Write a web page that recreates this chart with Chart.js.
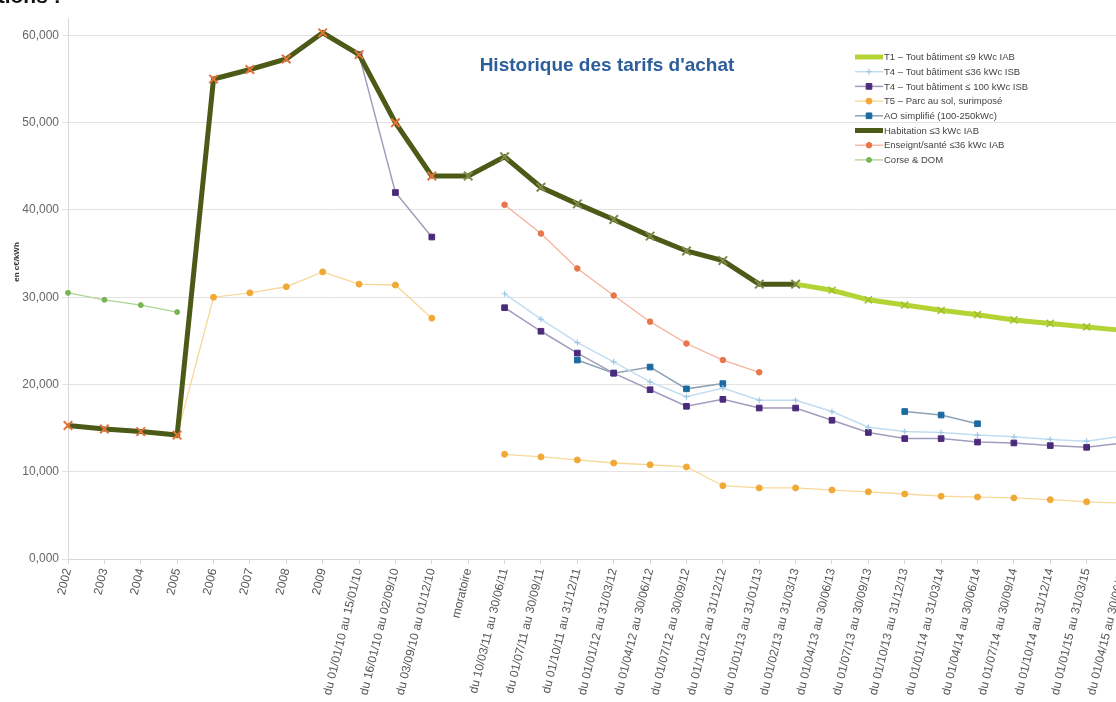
<!DOCTYPE html>
<html lang="fr">
<head>
<meta charset="utf-8">
<title>Historique des tarifs d'achat</title>
<script src="https://cdn.jsdelivr.net/npm/chart.js@4/dist/chart.umd.min.js"></script>
<style>
  html, body { margin: 0; padding: 0; background: #fff; overflow: hidden; }
  body { width: 1116px; height: 702px; position: relative; }
  #wrap { position: absolute; left: 0; top: 0; width: 1140px; height: 702px; }
  #heading { position: absolute; left: -14px; top: -16px; font: bold 21px "Liberation Sans", Arial, sans-serif; color: #111; }
</style>
</head>
<body>
<div id="wrap"><canvas id="tarifs" width="1140" height="702"></canvas></div>
<div id="heading">ations :</div>
<script>
// periods on the x axis
const periods = [
    '2002', '2003', '2004', '2005', '2006', '2007', '2008', '2009',
    'du 01/01/10 au 15/01/10', 'du 16/01/10 au 02/09/10', 'du 03/09/10 au 01/12/10', 'moratoire',
    'du 10/03/11 au 30/06/11', 'du 01/07/11 au 30/09/11', 'du 01/10/11 au 31/12/11',
    'du 01/01/12 au 31/03/12', 'du 01/04/12 au 30/06/12', 'du 01/07/12 au 30/09/12', 'du 01/10/12 au 31/12/12',
    'du 01/01/13 au 31/01/13', 'du 01/02/13 au 31/03/13', 'du 01/04/13 au 30/06/13', 'du 01/07/13 au 30/09/13',
    'du 01/10/13 au 31/12/13', 'du 01/01/14 au 31/03/14', 'du 01/04/14 au 30/06/14', 'du 01/07/14 au 30/09/14',
    'du 01/10/14 au 31/12/14', 'du 01/01/15 au 31/03/15', 'du 01/04/15 au 30/06/15'
];

// tariffs in c€/kWh, null = no tariff for that period
const t1Iab9 = [null, null, null, null, null, null, null, null, null, null, null, null, null, null, null,
    null, null, null, null, null, 31.5, 30.8, 29.7, 29.1, 28.5, 28.0, 27.4, 27.0, 26.6, 26.2];
const t4Isb36 = [null, null, null, null, null, null, null, null, null, null, null, null,
    30.4, 27.5, 24.8, 22.6, 20.3, 18.6, 19.6, 18.2, 18.2, 16.9, 15.1, 14.6, 14.5, 14.2, 14.0, 13.7, 13.5, 14.1];
const t4Isb100 = [null, null, null, null, null, null, null, null, 57.8, 42.0, 36.9, null,
    28.8, 26.1, 23.6, 21.3, 19.4, 17.5, 18.3, 17.3, 17.3, 15.9, 14.5, 13.8, 13.8, 13.4, 13.3, 13.0, 12.8, 13.3];
const t5Sol = [null, null, null, 14.2, 30.0, 30.5, 31.2, 32.9, 31.5, 31.4, 27.6, null,
    12.0, 11.7, 11.35, 11.0, 10.8, 10.55, 8.4, 8.15, 8.15, 7.9, 7.7, 7.45, 7.2, 7.1, 7.0, 6.8, 6.55, 6.4];
const aoSimplifie = [null, null, null, null, null, null, null, null, null, null, null, null, null, null,
    22.8, 21.3, 22.0, 19.5, 20.1, null, null, null, null, 16.9, 16.5, 15.5, null, null, null, null];
const habitation3 = [15.3, 14.9, 14.6, 14.2, 55.0, 56.1, 57.3, 60.3, 57.8, 50.0, 43.9, 43.9,
    46.1, 42.6, 40.7, 38.9, 37.0, 35.3, 34.2, 31.5, 31.5, null, null, null, null, null, null, null, null, null];
const enseignSante = [null, null, null, null, null, null, null, null, null, null, null, null,
    40.6, 37.3, 33.3, 30.2, 27.2, 24.7, 22.8, 21.4, null, null, null, null, null, null, null, null, null, null];
const corseDom = [30.5, 29.7, 29.1, 28.3, null, null, null, null, null, null, null, null, null, null, null,
    null, null, null, null, null, null, null, null, null, null, null, null, null, null, null];

const yTicks = { min: 0, max: 62, step: 10 };

Chart.defaults.font.family = '"Liberation Sans", Arial, sans-serif';

const fmt = v => v.toFixed(3).replace('.', ',');

function series(label, data, opts) {
    return Object.assign({
        label, data,
        spanGaps: false,
        tension: 0,
        fill: false,
        pointHoverRadius: 0
    }, opts);
}

const datasets = [
    series('T1 – Tout bâtiment ≤9 kWc IAB', t1Iab9, {
        borderColor: '#b4d436', borderWidth: 5, pointStyle: 'crossRot', pointRadius: 5,
        pointBorderColor: '#9fc02a', pointBorderWidth: 1.5, order: -1, legendPoint: false
    }),
    series('T4 – Tout bâtiment ≤36 kWc ISB', t4Isb36, {
        borderColor: '#c2ddf0', borderWidth: 1.5, pointStyle: 'cross', pointRadius: 3,
        pointBorderColor: '#9ec7e6', pointBorderWidth: 1.2
    }),
    series('T4 – Tout bâtiment ≤ 100 kWc ISB', t4Isb100, {
        borderColor: '#a29cbc', borderWidth: 1.5, pointStyle: 'rect', pointRadius: 4,
        pointBackgroundColor: '#4b2a7c', pointBorderColor: '#4b2a7c', pointBorderWidth: 1
    }),
    series('T5 – Parc au sol, surimposé', t5Sol, {
        borderColor: '#f7d898', borderWidth: 1.3, pointStyle: 'circle', pointRadius: 3,
        pointBackgroundColor: '#f0a935', pointBorderColor: '#f0a935', pointBorderWidth: 1
    }),
    series('AO simplifié (100-250kWc)', aoSimplifie, {
        borderColor: '#8fa2b3', borderWidth: 1.5, pointStyle: 'rect', pointRadius: 4,
        pointBackgroundColor: '#1b6aa3', pointBorderColor: '#1b6aa3', pointBorderWidth: 1
    }),
    series('Habitation ≤3 kWc IAB', habitation3, {
        borderColor: '#4c5a17', borderWidth: 5, pointStyle: 'crossRot', pointRadius: 6,
        pointBorderColor: ctx => ctx.dataIndex <= 10 ? '#e4733a' : '#7d8a4a',
        pointBorderWidth: 2, order: -2, legendPoint: false
    }),
    series('Enseignt/santé ≤36 kWc IAB', enseignSante, {
        borderColor: '#f3b39c', borderWidth: 1.3, pointStyle: 'circle', pointRadius: 2.8,
        pointBackgroundColor: '#e8764a', pointBorderColor: '#e8764a', pointBorderWidth: 1
    }),
    series('Corse & DOM', corseDom, {
        borderColor: '#add394', borderWidth: 1.3, pointStyle: 'circle', pointRadius: 2.5,
        pointBackgroundColor: '#79b556', pointBorderColor: '#79b556', pointBorderWidth: 1
    })
];

// title, unit label and legend are drawn on top of the plot
const overlay = {
    id: 'overlay',
    afterDraw(chart) {
        const ctx = chart.ctx;
        ctx.save();
        ctx.fillStyle = '#2c5e9b';
        ctx.font = 'bold 19px "Liberation Sans", Arial, sans-serif';
        ctx.textAlign = 'center';
        ctx.textBaseline = 'middle';
        ctx.fillText("Historique des tarifs d'achat", 607, 66);

        // unit, rotated, left of the y ticks
        ctx.save();
        ctx.translate(17, 262);
        ctx.rotate(-Math.PI / 2);
        ctx.fillStyle = '#333';
        ctx.font = 'bold 8px "Liberation Sans", Arial, sans-serif';
        ctx.fillText('en c€/kWh', 0, 0);
        ctx.restore();

        ctx.font = '9.5px "Liberation Sans", Arial, sans-serif';
        ctx.textAlign = 'left';
        chart.data.datasets.forEach((ds, i) => {
            const y = 57 + i * 14.7;
            ctx.strokeStyle = ds.borderColor;
            ctx.lineWidth = ds.borderWidth;
            ctx.beginPath();
            ctx.moveTo(855, y);
            ctx.lineTo(883, y);
            ctx.stroke();
            if (ds.legendPoint !== false) {
                ctx.fillStyle = ds.pointBackgroundColor || ds.pointBorderColor;
                ctx.strokeStyle = ds.pointBorderColor;
                ctx.lineWidth = ds.pointBorderWidth;
                Chart.helpers.drawPoint(ctx, {
                    pointStyle: ds.pointStyle, radius: ds.pointRadius, rotation: 0, borderWidth: ds.pointBorderWidth
                }, 869, y);
            }
            ctx.fillStyle = '#444';
            ctx.fillText(ds.label, 884, y + 0.5);
        });
        ctx.restore();
    }
};

new Chart(document.getElementById('tarifs'), {
    type: 'line',
    data: { labels: periods, datasets },
    plugins: [overlay],
    options: {
        responsive: false,
        animation: false,
        layout: { padding: { top: 18, right: 16, left: 0, bottom: 0 } },
        plugins: { legend: { display: false }, tooltip: { enabled: false } },
        scales: {
            x: {
                offset: false,
                ticks: {
                    autoSkip: false, minRotation: 76, maxRotation: 76,
                    color: '#555', font: { size: 12 }, padding: 3
                },
                grid: { drawOnChartArea: false, tickLength: 5, color: '#d8d8d8' },
                border: { color: '#d8d8d8' },
                afterFit: s => { s.height = 143; }
            },
            y: {
                min: yTicks.min, max: yTicks.max,
                ticks: {
                    stepSize: yTicks.step, includeBounds: false,
                    callback: v => fmt(v), color: '#666', font: { size: 12 }, padding: 3
                },
                grid: { color: '#e3e3e3', tickLength: 6 },
                border: { color: '#d8d8d8' },
                afterFit: s => { s.width = 68; }
            }
        }
    }
});
</script>
</body>
</html>
